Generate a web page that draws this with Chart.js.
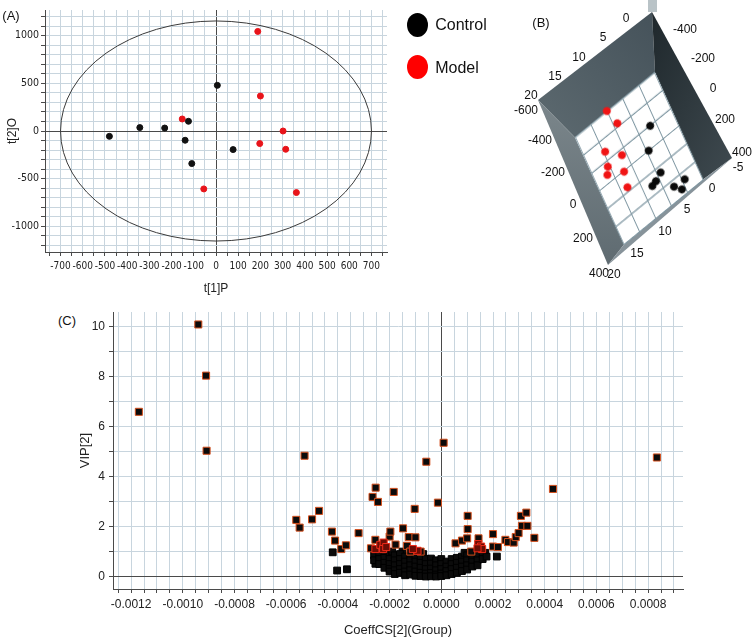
<!DOCTYPE html>
<html>
<head>
<meta charset="utf-8">
<script src="https://cdn.jsdelivr.net/npm/chart.js@4.4.1/dist/chart.umd.min.js"></script>
<style>
body { margin: 0; background: #fff; width: 756px; height: 642px; position: relative; overflow: hidden; font-family: "Liberation Sans", Arial, sans-serif; color: #111; }
canvas, .lbl, svg, .dot { position: absolute; }
.lbl { white-space: nowrap; transform: translate(-50%, -50%); font-size: 12px; line-height: 1; }
.panel { font-size: 13px; }
.dot { width: 21px; height: 24px; border-radius: 50%; }
#floorB { left: 0; top: 0; transform-origin: 0 0; transform: matrix(0.3975, -0.325, 0.2425, 0.535, 568.85, 135.4); }
</style>
</head>
<body>
<canvas id="plotA" style="left:0;top:0;width:392px;height:300px" width="392" height="300"></canvas>
<canvas id="plotC" style="left:78px;top:300px;width:622px;height:342px" width="622" height="342"></canvas>

<svg width="756" height="300" style="left:0;top:0">
  <defs>
    <linearGradient id="gTop" x1="0" y1="1" x2="1" y2="0">
      <stop offset="0" stop-color="#5d6a70"/><stop offset="1" stop-color="#45525a"/>
    </linearGradient>
    <linearGradient id="gRight" x1="0" y1="0" x2="1" y2="1">
      <stop offset="0" stop-color="#1f282c"/><stop offset="1" stop-color="#3f4a50"/>
    </linearGradient>
    <linearGradient id="gLeft" x1="0" y1="0" x2="0" y2="1">
      <stop offset="0" stop-color="#7b868b"/><stop offset="1" stop-color="#5f6b71"/>
    </linearGradient>
  </defs>
  <polygon points="538,100 652,12 655,72.5 575,137.5" fill="url(#gTop)"/>
  <polygon points="652,12 732,158 703,179.5 655,72.5" fill="url(#gRight)"/>
  <polygon points="538,100 575,137.5 624,244.5 608,265" fill="url(#gLeft)"/>
  <polygon points="608,265 624,244.5 703,179.5 732,158" fill="#87939a"/>
  <polygon points="575,137.5 655,72.5 703,179.5 624,244.5" fill="#fff"/>
  <rect x="648" y="0" width="9" height="12" fill="#b9c3c7"/>
</svg>
<canvas id="floorB" width="220" height="220" style="width:220px;height:220px"></canvas>

<div class="lbl panel" style="left:11px;top:15px">(A)</div>
<div class="lbl panel" style="left:541px;top:22px">(B)</div>
<div class="lbl panel" style="left:67px;top:320px">(C)</div>

<div class="dot" style="left:407px;top:13px;background:#000"></div>
<div class="lbl" style="left:461px;top:25px;font-size:16px">Control</div>
<div class="dot" style="left:407px;top:55px;background:#ff0000"></div>
<div class="lbl" style="left:457px;top:68px;font-size:16px">Model</div>

<div id="labelsB"></div>

<script>
// (A) OPLS-DA score plot
const controlA = [[-480, -56], [-343, 36], [-231, 31], [-139, -97], [-124, 102], [-109, -342], [6, 479], [77, -195]]
const modelA = [[-152, 126], [-55, -608], [188, 1045], [200, 367], [197, -132], [302, 0], [314, -192], [362, -646]]
const ellipseA = { rx: 700, ry: 1155 }

// (B) 3D score plot, floor coordinates
const controlB = [[1.5, -282], [4.6, -111], [4.1, 117], [6.2, 152], [7.6, 166], [2.4, 299], [-1.0, 309], [0.8, 365]]
const modelB = [[10.4, -645], [9.2, -494], [15.3, -361], [11.6, -237], [16.3, -237], [17.3, -180], [12.9, -105], [13.8, 28]]
const labelsB = [
  ['0', 626, 18], ['5', 603, 37], ['10', 579, 57], ['15', 555, 76], ['20', 531, 95],
  ['-600', 526, 110], ['-400', 540, 140], ['-200', 553, 172], ['0', 573, 204], ['200', 583, 238],
  ['400', 599, 273], ['20', 614, 274], ['15', 637, 253], ['10', 665, 231], ['5', 687, 209],
  ['0', 712, 188], ['-5', 738, 167], ['400', 742, 152], ['200', 725, 119], ['0', 713, 88],
  ['-200', 703, 58], ['-400', 685, 29]
]

// (C) VIP vs coefficient plot
const vipHigh = [
  [-11.7e-4, 6.6], [-9.4e-4, 10.1], [-9.1e-4, 8.05], [-9.08e-4, 5.04], [-5.29e-4, 4.84],
  [-5.61e-4, 2.27], [-5.48e-4, 1.96], [-5.0e-4, 2.29], [-4.73e-4, 2.63],
  [-4.23e-4, 1.8], [-4.11e-4, 1.44], [-3.87e-4, 1.1], [-3.69e-4, 1.25], [-3.2e-4, 1.74],
  [-2.54e-4, 3.56], [-2.66e-4, 3.19], [-2.45e-4, 2.99], [-1.84e-4, 3.39],
  [-2.55e-4, 1.47], [-2.72e-4, 1.13], [-2.0e-4, 1.6], [-1.97e-4, 1.8], [-1.77e-4, 1.28],
  [-1.48e-4, 1.93], [-1.26e-4, 1.58], [-1.0e-4, 1.57], [-1.33e-4, 1.23], [-1.03e-4, 2.71],
  [-0.58e-4, 4.6], [0.09e-4, 5.36], [-0.13e-4, 2.96],
  [1.02e-4, 2.43], [1.02e-4, 1.9], [0.55e-4, 1.33], [0.8e-4, 1.44], [1.0e-4, 1.53], [1.44e-4, 1.53],
  [1.16e-4, 1.0], [-1.2e-4, 1.0], [-0.8e-4, 1.0],
  [2.0e-4, 1.7], [2.0e-4, 1.2], [2.19e-4, 1.18], [2.48e-4, 1.47], [2.58e-4, 1.38], [2.8e-4, 1.36],
  [2.88e-4, 1.58], [2.99e-4, 1.74], [3.08e-4, 2.43], [3.29e-4, 2.56], [3.12e-4, 2.03], [3.33e-4, 2.03],
  [3.6e-4, 1.55], [4.32e-4, 3.51], [8.34e-4, 4.77]
]
const vipRed = [
  [-2.55e-4, 1.1], [-2.36e-4, 1.27], [-2.23e-4, 1.36], [-2.25e-4, 1.1], [-2.13e-4, 1.18],
  [-0.92e-4, 1.03], [-1.1e-4, 1.1], [1.43e-4, 1.3], [1.54e-4, 1.2], [1.58e-4, 1.1], [1.4e-4, 1.13]
]
const vipLow = [
  [-4.2e-4, 0.97], [-4.03e-4, 0.24], [-3.65e-4, 0.29], [-2.55e-4, 0.51], [2.15e-4, 0.8],
  [-2.6e-4, 0.85], [-2.6e-4, 0.65],
  [-2.4e-4, 0.9], [-2.4e-4, 0.7], [-2.4e-4, 0.5],
  [-2.2e-4, 0.95], [-2.2e-4, 0.75], [-2.2e-4, 0.55], [-2.2e-4, 0.35],
  [-2.0e-4, 0.9], [-2.0e-4, 0.7], [-2.0e-4, 0.5], [-2.0e-4, 0.3], [-2.0e-4, 0.2],
  [-1.9e-4, 1.0], [-1.5e-4, 1.0], [-1.1e-4, 0.98], [-0.7e-4, 0.9],
  [-1.8e-4, 0.85], [-1.8e-4, 0.65], [-1.8e-4, 0.45], [-1.8e-4, 0.25], [-1.8e-4, 0.1],
  [-1.6e-4, 0.9], [-1.6e-4, 0.7], [-1.6e-4, 0.5], [-1.6e-4, 0.3], [-1.6e-4, 0.15],
  [-1.4e-4, 0.8], [-1.4e-4, 0.6], [-1.4e-4, 0.4], [-1.4e-4, 0.2], [-1.4e-4, 0.05],
  [-1.2e-4, 0.85], [-1.2e-4, 0.65], [-1.2e-4, 0.45], [-1.2e-4, 0.25], [-1.2e-4, 0.08],
  [-1.0e-4, 0.8], [-1.0e-4, 0.6], [-1.0e-4, 0.4], [-1.0e-4, 0.2], [-1.0e-4, 0.03],
  [-0.8e-4, 0.75], [-0.8e-4, 0.55], [-0.8e-4, 0.35], [-0.8e-4, 0.15], [-0.8e-4, 0.02],
  [-0.6e-4, 0.7], [-0.6e-4, 0.5], [-0.6e-4, 0.3], [-0.6e-4, 0.12], [-0.6e-4, 0.0],
  [-0.4e-4, 0.72], [-0.4e-4, 0.52], [-0.4e-4, 0.32], [-0.4e-4, 0.14], [-0.4e-4, 0.01],
  [-0.2e-4, 0.65], [-0.2e-4, 0.45], [-0.2e-4, 0.25], [-0.2e-4, 0.08], [-0.2e-4, 0.0],
  [0.0, 0.7], [0.0, 0.5], [0.0, 0.3], [0.0, 0.12], [0.0, 0.02],
  [0.2e-4, 0.6], [0.2e-4, 0.4], [0.2e-4, 0.22], [0.2e-4, 0.05],
  [0.4e-4, 0.7], [0.4e-4, 0.5], [0.4e-4, 0.3], [0.4e-4, 0.1],
  [0.6e-4, 0.75], [0.6e-4, 0.55], [0.6e-4, 0.35], [0.6e-4, 0.15],
  [0.8e-4, 0.8], [0.8e-4, 0.6], [0.8e-4, 0.4], [0.8e-4, 0.22],
  [0.9e-4, 0.95], [1.3e-4, 0.95], [1.7e-4, 0.95],
  [1.0e-4, 0.85], [1.0e-4, 0.65], [1.0e-4, 0.45], [1.0e-4, 0.28],
  [1.2e-4, 0.8], [1.2e-4, 0.6], [1.2e-4, 0.4],
  [1.4e-4, 0.85], [1.4e-4, 0.65], [1.4e-4, 0.45],
  [1.6e-4, 0.9], [1.6e-4, 0.7], [1.75e-4, 0.8]
]

const narrow = '"DejaVu Sans Condensed", "Liberation Sans Narrow", "Liberation Sans", sans-serif'
const sans = '"Liberation Sans", Arial, sans-serif'
const gridLight = '#c8d5de'
const axisDark = '#4a4a4a'
const toXY = p => ({ x: p[0], y: p[1] })

function stepTicks(from, to, step) {
  return scale => {
    const ticks = []
    const n = Math.round((to - from) / step)
    for (let i = 0; i <= n; i++) ticks.push({ value: from + i * step })
    scale.ticks = ticks
  }
}
const zeroGrid = c => Math.abs(c.tick.value) < 1e-12 ? axisDark : gridLight

const ellipsePlugin = {
  id: 'ellipse',
  beforeDatasetsDraw(chart) {
    const { ctx, scales: { x, y } } = chart
    const cx = x.getPixelForValue(0)
    const cy = y.getPixelForValue(0)
    const rx = x.getPixelForValue(ellipseA.rx) - cx
    const ry = cy - y.getPixelForValue(ellipseA.ry)
    ctx.save()
    ctx.strokeStyle = '#3a3a3a'
    ctx.lineWidth = 1
    ctx.beginPath()
    ctx.ellipse(cx, cy, rx, ry, 0, 0, Math.PI * 2)
    ctx.stroke()
    ctx.restore()
  }
}

new Chart(document.getElementById('plotA'), {
  type: 'scatter',
  data: {
    datasets: [
      { label: 'Control', data: controlA.map(toXY), backgroundColor: '#111', borderColor: '#111', pointRadius: 3 },
      { label: 'Model', data: modelA.map(toXY), backgroundColor: '#e8141a', borderColor: '#e8141a', pointRadius: 3 }
    ]
  },
  options: {
    responsive: false,
    animation: false,
    events: [],
    layout: { padding: { top: 10, right: 4, left: 5 } },
    plugins: { legend: { display: false }, tooltip: { enabled: false } },
    scales: {
      x: {
        type: 'linear', min: -770, max: 770,
        afterBuildTicks: stepTicks(-750, 750, 50),
        afterFit: s => { s.height = 48 },
        ticks: { autoSkip: false, maxRotation: 0, padding: 4, color: '#222', font: { family: narrow, size: 10 },
          callback: v => Math.round(v) % 100 === 0 ? String(Math.round(v)) : '' },
        grid: { color: zeroGrid, tickLength: 4, tickColor: axisDark },
        border: { color: axisDark },
        title: { display: true, text: 't[1]P', color: '#222', font: { family: sans, size: 12 }, padding: { top: 5 } }
      },
      y: {
        type: 'linear', min: -1270, max: 1270,
        afterBuildTicks: stepTicks(-1200, 1200, 100),
        afterFit: s => { s.width = 40 },
        ticks: { autoSkip: false, padding: 2, color: '#222', font: { family: narrow, size: 10.5 },
          callback: v => Math.round(v) % 500 === 0 ? String(Math.round(v)) : '' },
        grid: { color: zeroGrid, tickLength: 4, tickColor: axisDark },
        border: { color: axisDark },
        title: { display: true, text: 't[2]O', color: '#222', font: { family: sans, size: 12 }, padding: 0 }
      }
    }
  },
  plugins: [ellipsePlugin]
})

// (B) circles pre-distorted so they look round after the floor transform
const floorM = [0.3975, -0.325, 0.2425, 0.535]
function makeDot(color, rho) {
  const [a, b, c, d] = floorM
  const det = a * d - b * c
  const p = d / det, q = -c / det, r = -b / det, s = a / det
  const w = Math.ceil(2 * rho * Math.hypot(p, q)) + 4
  const h = Math.ceil(2 * rho * Math.hypot(r, s)) + 4
  const cv = document.createElement('canvas')
  cv.width = w
  cv.height = h
  const g = cv.getContext('2d')
  g.setTransform(p, r, q, s, w / 2, h / 2)
  g.beginPath()
  g.arc(0, 0, rho, 0, Math.PI * 2)
  g.fillStyle = color
  g.fill()
  return cv
}

new Chart(document.getElementById('floorB'), {
  type: 'scatter',
  data: {
    datasets: [
      { data: controlB.map(toXY), pointStyle: makeDot('#0a0a0a', 4), clip: false },
      { data: modelB.map(toXY), pointStyle: makeDot('#f01414', 4), clip: false }
    ]
  },
  options: {
    responsive: false,
    animation: false,
    events: [],
    layout: { padding: 10 },
    plugins: { legend: { display: false }, tooltip: { enabled: false } },
    scales: {
      x: { type: 'linear', reverse: true, min: -5.5, max: 21, afterFit: s => { s.height = 0 },
        ticks: { display: false, count: 6 }, grid: { color: '#7f97a2', lineWidth: 2, drawTicks: false }, border: { display: false } },
      y: { type: 'linear', reverse: true, min: -640, max: 420, afterFit: s => { s.width = 0 },
        ticks: { display: false, count: 7 }, grid: { color: '#7f97a2', lineWidth: 2, drawTicks: false }, border: { display: false } }
    }
  }
})

const holder = document.getElementById('labelsB')
labelsB.forEach(([t, x, y]) => {
  const el = document.createElement('div')
  el.className = 'lbl'
  el.style.left = x + 'px'
  el.style.top = y + 'px'
  el.textContent = t
  holder.appendChild(el)
})

// (C)
new Chart(document.getElementById('plotC'), {
  type: 'scatter',
  data: {
    datasets: [
      { data: vipRed.map(toXY), pointStyle: 'rect', pointRadius: 5, backgroundColor: '#6a0d05', borderColor: '#ee2a18', borderWidth: 1 },
      { data: vipHigh.map(toXY), pointStyle: 'rect', pointRadius: 5, backgroundColor: '#0b0b0b', borderColor: '#d5501e', borderWidth: 1 },
      { data: vipLow.map(toXY), pointStyle: 'rect', pointRadius: 4.8, backgroundColor: '#0b0b0b', borderColor: '#000', borderWidth: 1 }
    ]
  },
  options: {
    responsive: false,
    animation: false,
    events: [],
    layout: { padding: { top: 12, right: 17 } },
    plugins: { legend: { display: false }, tooltip: { enabled: false } },
    scales: {
      x: {
        type: 'linear', min: -0.00127, max: 0.000935,
        afterBuildTicks: stepTicks(-0.00125, 0.0009, 0.00005),
        afterFit: s => { s.height = 53 },
        ticks: { autoSkip: false, maxRotation: 0, padding: 4, color: '#222', font: { family: sans, size: 12 },
          callback: v => {
            const k = Math.round(v / 0.00005)
            if (k % 4 !== 0) return ''
            const r = k * 0.00005
            return Math.abs(r) < 1e-12 ? '0.0000' : r.toFixed(4)
          } },
        grid: { color: zeroGrid, tickLength: 4, tickColor: axisDark },
        border: { color: axisDark },
        title: { display: true, text: 'CoeffCS[2](Group)', color: '#222', font: { family: sans, size: 13 }, padding: { top: 6 } }
      },
      y: {
        type: 'linear', min: -0.5, max: 10.6,
        afterBuildTicks: stepTicks(0, 10, 1),
        afterFit: s => { s.width = 35 },
        ticks: { autoSkip: false, padding: 4, color: '#222', font: { family: sans, size: 12 },
          callback: v => Math.round(v) % 2 === 0 ? String(Math.round(v)) : '' },
        grid: { color: zeroGrid, tickLength: 4, tickColor: axisDark },
        border: { color: axisDark },
        title: { display: true, text: 'VIP[2]', color: '#222', font: { family: sans, size: 13 }, padding: 0 }
      }
    }
  }
})
</script>
</body>
</html>
